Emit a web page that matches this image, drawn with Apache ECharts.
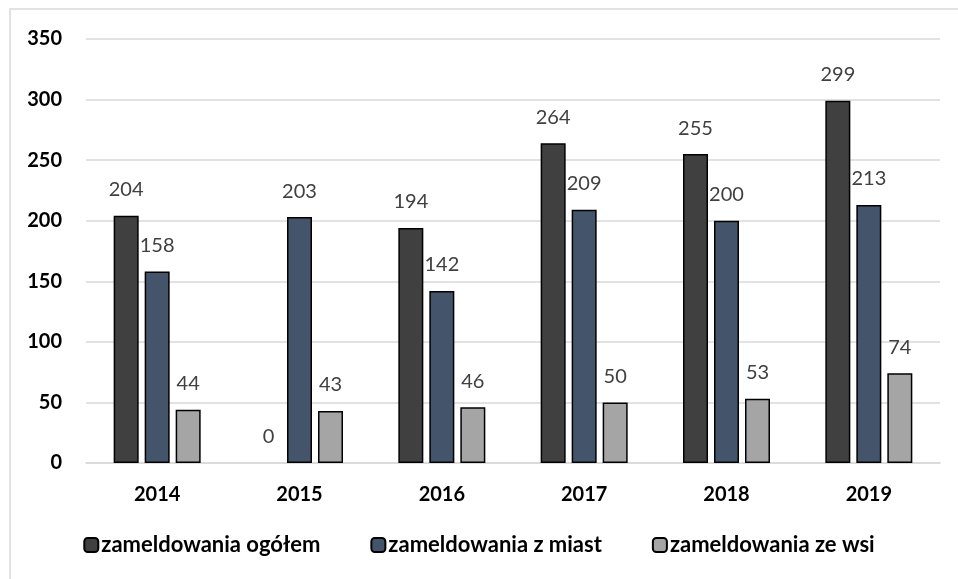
<!DOCTYPE html>
<html>
<head>
<meta charset="utf-8">
<script src="https://cdn.jsdelivr.net/npm/echarts@6/dist/echarts.min.js"></script>
<style>
  html, body { margin: 0; padding: 0; background: #fff; }
  #chart { width: 958px; height: 579px; }
</style>
</head>
<body>
<div id="chart"></div>
<script>
const years = ['2014', '2015', '2016', '2017', '2018', '2019'];
const ogolem = [204, 0, 194, 264, 255, 299];
const zMiast = [158, 203, 142, 209, 200, 213];
const zeWsi = [44, 43, 46, 50, 53, 74];

const font = 'Lato, "Open Sans", sans-serif';
const chart = echarts.init(document.getElementById('chart'));

// wspólne ustawienia serii; słupek o wartości 0 bez obramowania
const makeSeries = (name, data, color) => ({
  name,
  type: 'bar',
  data: data.map(v => (v === 0 ? { value: v, itemStyle: { borderWidth: 0 } } : v)),
  barWidth: 25,
  barGap: '24%',
  itemStyle: { color, borderColor: '#000', borderWidth: 1.5 },
  label: {
    show: true,
    position: 'top',
    distance: 16,
    color: '#404040',
    fontFamily: font,
    fontSize: 20
  }
});

chart.setOption({
  animation: false,
  backgroundColor: '#fff',
  graphic: [{
    type: 'rect',
    shape: { x: 10, y: 9, width: 960, height: 600 },
    style: { fill: 'none', stroke: '#d9d9d9', lineWidth: 1.5 },
    silent: true
  }],
  grid: { left: 86, right: 18, top: 39, bottom: 116 },
  legend: {
    bottom: 18,
    left: 'center',
    itemWidth: 14,
    itemHeight: 14,
    itemGap: 50,
    textStyle: { fontFamily: font, fontSize: 22, fontWeight: 'bold', color: '#000', padding: [0, 0, 0, -2] },
    data: ['zameldowania ogółem', 'zameldowania z miast', 'zameldowania ze wsi']
  },
  xAxis: {
    type: 'category',
    data: years,
    axisLine: { lineStyle: { color: '#d9d9d9', width: 1.5 } },
    axisTick: { show: false },
    axisLabel: { color: '#000', fontFamily: font, fontSize: 20, fontWeight: 'bold', margin: 22 }
  },
  yAxis: {
    type: 'value',
    min: 0,
    max: 350,
    interval: 50,
    axisLine: { show: false },
    axisTick: { show: false },
    splitLine: { lineStyle: { color: '#d9d9d9', width: 1.5 } },
    axisLabel: { color: '#000', fontFamily: font, fontSize: 20, fontWeight: 'bold', margin: 24 }
  },
  series: [
    makeSeries('zameldowania ogółem', ogolem, '#404040'),
    makeSeries('zameldowania z miast', zMiast, '#44546A'),
    makeSeries('zameldowania ze wsi', zeWsi, '#A5A5A5')
  ]
});
</script>
</body>
</html>
